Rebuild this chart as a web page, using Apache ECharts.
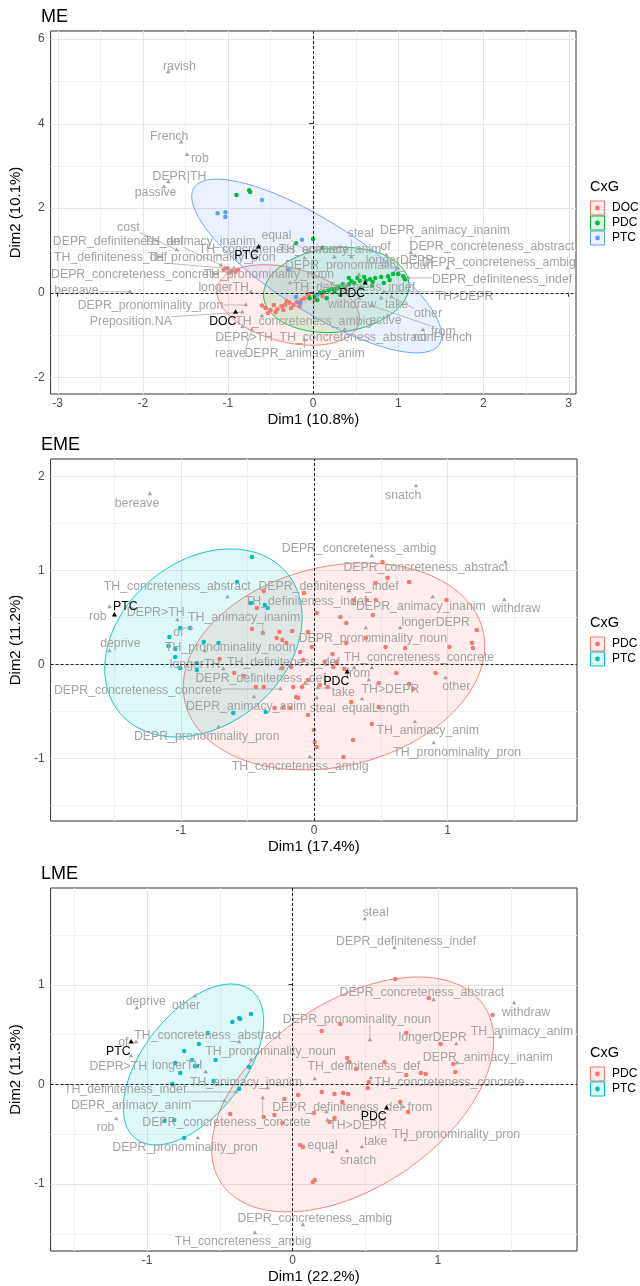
<!DOCTYPE html>
<html><head><meta charset="utf-8">
<script src="https://cdn.jsdelivr.net/npm/echarts@6/dist/echarts.min.js"></script>
<style>html,body{margin:0;padding:0;background:#fff}#c{width:640px;height:1286px}</style>
</head><body><div id="c"></div>
<script>
// ================= DATA =================
// ---- Panel ME ----
const ME_groups = ['DOC','PDC','PTC'];
const ME_DOC = [[-1.05,0.54],[-1.01,0.58],[-0.96,0.51],[-0.91,0.49],[-0.88,0.54],[-0.98,0.47],
 [-0.56,-0.36],[-0.50,-0.41],[-0.46,-0.29],[-0.42,-0.39],[-0.37,-0.32],[-0.33,-0.29],[-0.28,-0.24],[-0.23,-0.29],
 [-0.19,-0.22],[-0.14,-0.17],[-0.10,-0.13],[-0.05,-0.08],[-0.53,-0.48],[-0.44,-0.46],[-0.35,-0.41],[-0.26,-0.36],
 [-0.16,-0.32],[0.02,-0.17],[0.11,-0.08],[-0.60,-0.30],[-0.31,-0.20],[-0.07,-0.02]];
const ME_PDC = [[-0.90,2.31],[-0.75,2.42],[-0.74,2.38],[-0.20,1.17],[0.00,1.27],[0.11,1.06],
 [0.08,-0.01],[0.13,0.02],[0.22,0.09],[0.30,0.13],[0.37,0.14],[0.42,0.20],[0.48,0.23],[0.55,0.28],[0.62,0.28],
 [0.67,0.32],[0.73,0.35],[0.80,0.37],[0.88,0.39],[0.94,0.44],[1.00,0.44],[1.06,0.39],[1.08,0.32],[0.42,0.35],
 [0.52,0.35],[0.60,0.37],[0.25,0.02],[0.02,-0.08],[-0.04,-0.13],[0.05,-0.17],[0.16,-0.13],[0.32,-0.05],[0.56,0.11],
 [0.69,0.16],[0.83,0.23],[0.18,0.05],[0.28,0.10],[0.35,0.20],[0.45,0.27],[0.70,0.25],[0.90,0.30]];
const ME_PTC = [[-1.12,1.88],[-1.03,1.90],[-1.03,1.79],[-0.60,2.19],[-0.13,1.25],[-0.29,0.54],[-0.15,-0.25],[0.05,-0.05],[-0.20,-0.10]];
// ellipse: centre x, centre y, semi-axis vector a (x,y), semi-axis vector b (x,y)
const ME_ellipses = [[-0.292,-0.291,0.830,-0.426,-0.104,-0.851],[0.273,0.064,0.853,0.165,0.046,-0.993],[0.043,0.631,1.442,-1.844,-0.275,-0.903]];
const ME_centroids = [[-0.91,-0.46],[0.61,0.23],[-0.64,1.08]];
const ME_catNames = ['ravish','French','rob','DEPR|TH','passive','cost','DEPR_definiteness_def','TH_animacy_inanim',
 'TH_definiteness_def','TH_pronominality_pron','DEPR_concreteness_concrete','TH_pronominality_noun','DEPR_pronominality_noun',
 'longerTH','bereave','DEPR_pronominality_pron','Preposition.NA','equal','steal','of','DEPR_animacy_inanim',
 'DEPR_concreteness_abstract','longerDEPR','DEPR_concreteness_ambig','DEPR_definiteness_indef','TH>DEPR','TH_definiteness_indef',
 'withdraw','take','other','from','TH_concreteness_ambig','active','TH_concreteness_abstract','DEPR>TH','reave',
 'DEPR_animacy_anim','nonFrench','TH_concreteness_concrete','TH_animacy_anim'];
const ME_cats = [[-1.70,5.22],[-1.55,3.56],[-1.48,3.26],[-1.70,2.62],[-1.75,2.50],[-1.60,1.01],[-1.08,0.65],[-0.67,1.01],
 [-1.04,0.58],[-0.93,0.58],[-1.00,0.49],[-0.27,0.23],[0.54,0.42],[-0.73,0.02],[-2.15,0.02],[-0.79,-0.29],[-0.83,-0.46],
 [-0.06,0.96],[0.45,0.84],[0.86,0.89],[1.15,0.94],[1.20,0.87],[1.00,0.58],[1.58,0.58],[1.12,0.35],[0.83,0.02],[0.37,0.18],
 [0.54,-0.13],[0.80,-0.13],[0.92,-0.10],[0.69,-0.31],[-0.60,-0.55],[0.88,-0.55],[0.37,-0.88],[-0.83,-0.81],[-0.72,-0.88],
 [-0.10,-1.12],[1.29,-0.88],[-0.10,0.82],[0.25,0.84]];

// ---- Panel EME ----
const EME_groups = ['PDC','PTC'];
const EME_PDC = [[-0.378,0.780],[-0.429,0.599],[-0.076,0.758],[0.020,0.546],[0.513,1.088],[0.550,0.918],[0.712,0.876],
 [0.462,0.865],[0.395,0.684],[0.462,0.684],[0.992,0.684],[0.197,0.503],[0.440,0.524],[0.300,0.684],[-0.466,0.376],
 [-0.385,0.333],[-0.260,0.344],[-0.164,0.354],[-0.046,0.344],[-0.282,0.280],[-0.238,0.259],[-0.208,0.227],[-0.105,0.131],
 [-0.083,0.046],[-0.709,0.056],[-0.599,-0.093],[-0.525,-0.124],[-0.437,-0.241],[-0.378,-0.241],[-0.238,-0.039],
 [-0.172,-0.029],[-0.157,-0.241],[-0.091,-0.241],[-0.135,-0.348],[-0.120,-0.358],[-0.297,-0.465],[-0.230,-0.454],
 [-0.179,-0.465],[-0.046,-0.539],[-0.002,-0.699],[0.005,-0.827],[0.020,-0.880],[-0.017,0.184],[0.241,0.439],[0.535,0.184],
 [0.683,0.173],[1.014,0.184],[1.183,0.227],[1.191,0.173],[1.220,0.365],[0.138,0.110],[0.145,-0.029],[0.079,0.024],
 [0.167,0.024],[0.226,-0.050],[0.616,-0.093],[0.911,-0.093],[0.484,-0.199],[0.712,-0.210],[0.742,-0.263],[0.042,-0.220],
 [-0.046,-0.167],[0.101,-0.241],[0.278,-0.401],[0.484,-0.454],[0.432,-0.635],[0.292,-0.805],[0.219,-0.986],[0.388,0.280],
 [0.241,0.227]];
const EME_PTC = [[-0.466,1.141],[-0.577,0.876],[-0.474,0.652],[-0.370,0.631],[-0.348,0.599],[-1.004,0.386],[-0.930,0.386],
 [-1.085,0.290],[-1.092,0.195],[-1.041,0.163],[-0.827,0.237],[-0.717,0.227],[-1.041,0.078],[-1.004,-0.039],[-0.879,-0.061],
 [-0.879,0.014],[-0.606,-0.518],[-0.363,-0.507]];
const EME_ellipses = [[0.149,-0.023,1.130,0.219,0,-1.079],[-0.830,0.227,0.740,0.274,0,-0.962]];
const EME_centroids = [[0.248,-0.082],[-1.497,0.524]];
const EME_catNames = ['bereave','snatch','DEPR_concreteness_ambig','DEPR_concreteness_abstract','DEPR_definiteness_indef',
 'TH_definiteness_indef','DEPR_animacy_inanim','withdraw','TH_concreteness_abstract','rob','DEPR>TH','TH_animacy_inanim','of',
 'deprive','TH_pronominality_noun','DEPR_pronominality_noun','longerDEPR','TH_concreteness_concrete','longerTH',
 'TH_definiteness_def','DEPR_definiteness_def','from','take','TH>DEPR','other','DEPR_concreteness_concrete','DEPR_animacy_anim',
 'steal','equalLength','TH_animacy_anim','TH_pronominality_pron','DEPR_pronominality_pron','TH_concreteness_ambig'];
const EME_cats = [[-1.232,1.812],[0.764,1.897],[0.432,1.152],[1.434,1.088],[0.263,0.780],[0.292,0.641],[0.889,0.716],
 [1.426,0.684],[-0.650,0.716],[-1.534,0.610],[-1.026,0.471],[-0.385,0.333],[-0.923,0.386],[-1.534,0.141],[-0.820,0.141],
 [0.388,0.386],[0.646,0.386],[0.432,-0.039],[-0.680,-0.050],[-0.253,-0.050],[-0.068,-0.199],[0.300,-0.039],[0.027,-0.252],
 [0.410,-0.167],[0.985,-0.146],[-0.253,-0.263],[-0.451,-0.348],[0.020,-0.358],[0.359,-0.369],[0.756,-0.614],[0.896,-0.837],
 [-0.717,-0.667],[-0.032,-0.986]];

// ---- Panel LME ----
const LME_groups = ['PDC','PTC'];
const LME_PDC = [[0.707,1.056],[1.376,0.695],[0.937,0.866],[0.201,0.535],[0.329,0.605],[0.782,0.515],[0.376,0.264],
 [1.018,0.404],[0.437,0.153],[0.633,0.224],[0.782,0.093],[0.883,0.113],[0.917,0.103],[1.120,0.123],[1.106,0.204],
 [0.525,0.023],[0.518,-0.037],[0.201,-0.077],[0.289,-0.097],[0.349,-0.087],[0.383,-0.097],[0.343,-0.178],[0.741,-0.178],
 [0.795,-0.278],[0.147,-0.288],[0.255,-0.378],[0.289,-0.338],[0.153,-0.960],[0.039,-0.107],[-0.056,-0.147],
 [-0.198,-0.328],[-0.124,-0.308],[-0.070,-0.388],[-0.428,-0.298],[0.052,-0.609],[0.072,-0.629],[0.140,-0.980],[0.390,0.224]];
const LME_PTC = [[-0.286,0.705],[-0.367,0.665],[-0.360,0.655],[-0.414,0.625],[-0.583,0.515],[-0.644,0.404],[-0.745,0.334],
 [-0.529,0.244],[-0.806,0.214],[-0.691,0.244],[-0.671,0.184],[-0.657,0.184],[-0.772,0.113],[-0.299,0.174],[-0.543,0.033],
 [-0.826,0.003],[-0.367,-0.047],[-0.880,-0.368],[-0.745,-0.539],[-0.813,-0.358]];
const LME_ellipses = [[0.414,-0.102,0.970,0.547,0,-1.044],[-0.681,0.199,0.483,0.434,0,-0.681]];
const LME_centroids = [[0.647,-0.238],[-1.110,0.424]];
const LME_catNames = ['steal','DEPR_definiteness_indef','DEPR_concreteness_abstract','withdraw','TH_animacy_anim',
 'DEPR_pronominality_noun','longerDEPR','DEPR_animacy_inanim','TH_definiteness_def','TH_concreteness_concrete',
 'DEPR_definiteness_def','from','TH>DEPR','TH_pronominality_pron','equal','take','snatch','DEPR_concreteness_ambig',
 'TH_concreteness_ambig','deprive','other','TH_concreteness_abstract','of','TH_pronominality_noun','DEPR>TH','longerTH',
 'TH_animacy_inanim','TH_definiteness_indef','DEPR_animacy_anim','DEPR_concreteness_concrete','rob','DEPR_pronominality_pron'];
const LME_cats = [[0.498,1.658],[0.701,1.367],[0.971,0.846],[1.525,0.815],[1.430,0.474],[0.532,0.444],[1.126,0.404],
 [1.133,0.214],[0.153,0.053],[0.539,0.063],[0.234,-0.278],[0.762,-0.228],[0.241,-0.358],[0.775,-0.559],[0.275,-0.679],
 [0.478,-0.629],[0.376,-0.669],[0.072,-1.411],[-0.259,-1.491],[-1.070,0.765],[-0.671,0.886],[-0.367,0.424],[-1.076,0.424],
 [-0.286,0.244],[-1.110,0.284],[-0.597,0.123],[-0.171,-0.037],[-0.387,-0.077],[-0.468,-0.168],[-0.205,-0.137],
 [-1.212,-0.348],[-0.651,-0.539]];

// ---- tick labels ----
const ME_xTicks = [-3,-2,-1,0,1,2,3], ME_yTicks = [-2,0,2,4,6];
const EME_xTicks = [-1,0,1], EME_yTicks = [-1,0,1,2];
const LME_xTicks = [-1,0,1], LME_yTicks = [-1,0,1];

// ================= LAYOUT (label placement, not data) =================
const ME_catLabelPos = [[-1.57,5.34],[-1.69,3.70],[-1.33,3.16],[-1.57,2.74],[-1.85,2.36],[-2.17,1.55],[-2.29,1.20],[-1.33,1.20],
 [-2.38,0.82],[-1.19,0.82],[-2.09,0.42],[-0.52,0.42],[0.54,0.63],[-1.05,0.11],[-2.78,0.04],[-1.91,-0.31],[-2.14,-0.69],
 [-0.43,1.36],[0.56,1.39],[0.85,1.08],[1.55,1.46],[2.10,1.08],[1.02,0.75],[2.18,0.70],[2.22,0.32],[1.78,-0.10],[0.48,0.13],
 [0.46,-0.29],[0.98,-0.29],[1.35,-0.50],[1.53,-0.91],[-0.11,-0.69],[0.85,-0.67],[0.47,-1.05],[-0.81,-1.07],[-0.97,-1.43],
 [-0.10,-1.43],[1.52,-1.07],[-0.46,1.01],[0.20,1.01]];
const ME_centroidLabelPos = [[-1.06,-0.69],[0.46,-0.03],[-0.78,0.87]];
const EME_catLabelPos = [[-1.328,1.705],[0.668,1.790],[0.337,1.227],[0.837,1.024],[0.108,0.822],[-0.061,0.663],[0.800,0.610],
 [1.515,0.588],[-1.026,0.822],[-1.622,0.503],[-1.188,0.546],[-0.525,0.493],[-1.018,0.333],[-1.453,0.216],[-0.628,0.173],
 [0.440,0.269],[0.911,0.439],[0.786,0.067],[-0.893,-0.007],[-0.230,0.014],[-0.400,-0.156],[0.329,-0.103],[0.219,-0.305],
 [0.572,-0.273],[1.066,-0.241],[-1.320,-0.284],[-0.510,-0.454],[0.064,-0.476],[0.462,-0.476],[0.852,-0.710],[1.073,-0.944],
 [-0.805,-0.773],[-0.105,-1.093]];
const EME_centroidLabelPos = [[0.167,-0.188],[-1.416,0.610]];
const LME_catLabelPos = [[0.572,1.718],[0.782,1.427],[0.890,0.916],[1.606,0.715],[1.579,0.525],[0.444,0.645],[0.964,0.464],
 [1.343,0.264],[0.491,0.174],[1.079,0.013],[0.309,-0.238],[0.876,-0.238],[0.451,-0.418],[1.126,-0.509],[0.207,-0.619],
 [0.572,-0.579],[0.451,-0.769],[0.153,-1.351],[-0.340,-1.582],[-1.009,0.825],[-0.732,0.785],[-0.583,0.484],[-1.164,0.414],
 [-0.151,0.324],[-1.198,0.174],[-0.793,0.184],[-0.320,0.013],[-1.151,-0.057],[-1.110,-0.218],[-0.455,-0.388],
 [-1.286,-0.438],[-0.739,-0.639]];
const LME_centroidLabelPos = [[0.559,-0.328],[-1.198,0.324]];

// ================= CHART =================
const FONT = '"Liberation Sans", Arial, Helvetica, sans-serif';
const GREY = '#a3a3a3';
const LBL = 12.3;
const mctx = document.createElement('canvas').getContext('2d');
function tw(s, size){ mctx.font = size + 'px ' + FONT; return mctx.measureText(s).width; }
function rgba(hex, a){ const n=parseInt(hex.slice(1),16); return 'rgba('+(n>>16)+','+((n>>8)&255)+','+(n&255)+','+a+')'; }

const panels = [
 {title:'ME', titleY:17, grid:{left:41, top:31, width:535, height:363}, xr:[-3.083,3.088], yr:[-2.395,6.187],
  xt:ME_xTicks, yt:ME_yTicks, xMinor:[-2.5,-1.5,-0.5,0.5,1.5,2.5], yMinor:[-1,1,3,5],
  xName:'Dim1 (10.8%)', yName:'Dim2 (10.1%)', groups:ME_groups, colors:['#F8766D','#00BA38','#619CFF'],
  pts:[ME_DOC,ME_PDC,ME_PTC], ell:ME_ellipses, cen:ME_centroids, cenLab:ME_centroidLabelPos,
  catNames:ME_catNames, cats:ME_cats, catLab:ME_catLabelPos, legendY:187},
 {title:'EME', titleY:445, grid:{left:41, top:459, width:536, height:362}, xr:[-1.976,1.971], yr:[-1.667,2.184],
  xt:EME_xTicks, yt:EME_yTicks, xMinor:[-1.5,-0.5,0.5,1.5], yMinor:[-1.5,-0.5,0.5,1.5],
  xName:'Dim1 (17.4%)', yName:'Dim2 (11.2%)', groups:EME_groups, colors:['#F8766D','#00BFC4'],
  pts:[EME_PDC,EME_PTC], ell:EME_ellipses, cen:EME_centroids, cenLab:EME_centroidLabelPos,
  catNames:EME_catNames, cats:EME_cats, catLab:EME_catLabelPos, legendY:623},
 {title:'LME', titleY:874, grid:{left:41, top:888, width:536, height:363}, xr:[-1.664,1.957], yr:[-1.672,1.969],
  xt:LME_xTicks, yt:LME_yTicks, xMinor:[-1.5,-0.5,0.5,1.5], yMinor:[-1.5,-0.5,0.5,1.5],
  xName:'Dim1 (22.2%)', yName:'Dim2 (11.3%)', groups:LME_groups, colors:['#F8766D','#00BFC4'],
  pts:[LME_PDC,LME_PTC], ell:LME_ellipses, cen:LME_centroids, cenLab:LME_centroidLabelPos,
  catNames:LME_catNames, cats:LME_cats, catLab:LME_catLabelPos, legendY:1053}
];

function labelRender(names, color, tri, size){
  return function(params, api){
    const i = params.dataIndex;
    const p = api.coord([api.value(0), api.value(1)]);
    const l = api.coord([api.value(2), api.value(3)]);
    const name = names[i];
    const w = tw(name, size), h = size * 0.85;
    const qx = Math.max(l[0]-w/2, Math.min(p[0], l[0]+w/2));
    const qy = Math.max(l[1]-h/2, Math.min(p[1], l[1]+h/2));
    const ch = [];
    if (Math.hypot(p[0]-qx, p[1]-qy) > 7) {
      ch.push({type:'line', shape:{x1:p[0], y1:p[1], x2:qx, y2:qy}, style:{stroke:'#a8a8a8', lineWidth:0.8}});
    }
    ch.push({type:'polygon', shape:{points:[[p[0],p[1]-tri],[p[0]+tri*0.87,p[1]+tri*0.5],[p[0]-tri*0.87,p[1]+tri*0.5]]}, style:{fill:color}});
    ch.push({type:'text', x:l[0], y:l[1], style:{text:name, fill:color, font:size+'px '+FONT, align:'center', verticalAlign:'middle', textAlign:'center', textVerticalAlign:'middle'}});
    return {type:'group', children:ch};
  };
}

const option = {animation:false, backgroundColor:'#fff', grid:[], xAxis:[], yAxis:[], series:[], graphic:{elements:[]}};

panels.forEach((P, k) => {
  option.grid.push(Object.assign({show:true, borderColor:'#333', borderWidth:1, backgroundColor:'#fff', containLabel:false}, P.grid));
  option.xAxis.push({gridIndex:k, type:'value', min:P.xr[0], max:P.xr[1], splitLine:{show:false}, axisLine:{show:false},
    axisTick:{show:true, length:4, lineStyle:{color:'#333'}, customValues:P.xt},
    axisLabel:{customValues:P.xt, color:'#4d4d4d', fontSize:12, fontFamily:FONT, margin:4},
    name:P.xName, nameLocation:'middle', nameGap:18, nameTextStyle:{fontSize:15, color:'#000', fontFamily:FONT}});
  option.yAxis.push({gridIndex:k, type:'value', min:P.yr[0], max:P.yr[1], splitLine:{show:false}, axisLine:{show:false},
    axisTick:{show:true, length:4, lineStyle:{color:'#333'}, customValues:P.yt},
    axisLabel:{customValues:P.yt, color:'#4d4d4d', fontSize:12, fontFamily:FONT, margin:6},
    name:P.yName, nameLocation:'middle', nameGap:18, nameTextStyle:{fontSize:15, color:'#000', fontFamily:FONT}});
  // grid lines
  option.series.push({type:'custom', xAxisIndex:k, yAxisIndex:k, z:1, silent:true, data:[[P.xr[0], P.yr[0]]],
    renderItem:function(params, api){
      const ch = [];
      const vline = (v, st) => { const a=api.coord([v,P.yr[0]]), b=api.coord([v,P.yr[1]]); const x=Math.round(a[0])+0.5;
        ch.push({type:'line', shape:{x1:x,y1:a[1],x2:x,y2:b[1]}, style:st}); };
      const hline = (v, st) => { const a=api.coord([P.xr[0],v]), b=api.coord([P.xr[1],v]); const y=Math.round(a[1])+0.5;
        ch.push({type:'line', shape:{x1:a[0],y1:y,x2:b[0],y2:y}, style:st}); };
      const minor = {stroke:'#f3f3f3', lineWidth:1}, major = {stroke:'#e6e6e6', lineWidth:1};
      P.xMinor.forEach(v=>vline(v,minor)); P.yMinor.forEach(v=>hline(v,minor));
      P.xt.forEach(v=>vline(v,major)); P.yt.forEach(v=>hline(v,major));
      return {type:'group', children:ch};
    }});
  // dashed zero lines
  option.series.push({type:'custom', xAxisIndex:k, yAxisIndex:k, z:5, silent:true, data:[[0,0]],
    renderItem:function(params, api){
      const st = {stroke:'#222', lineWidth:1, lineDash:[3,2]};
      const a=api.coord([0,P.yr[0]]), b=api.coord([0,P.yr[1]]), c=api.coord([P.xr[0],0]), d=api.coord([P.xr[1],0]);
      return {type:'group', children:[
        {type:'line', shape:{x1:Math.round(a[0])+0.5,y1:a[1],x2:Math.round(a[0])+0.5,y2:b[1]}, style:st},
        {type:'line', shape:{x1:c[0],y1:Math.round(c[1])+0.5,x2:d[0],y2:Math.round(c[1])+0.5}, style:st}]};
    }});
  // ellipses
  option.series.push({type:'custom', xAxisIndex:k, yAxisIndex:k, z:2, silent:true, clip:true,
    data:P.ell.map((e,g)=>e.concat([g])), encode:{x:0, y:1},
    renderItem:function(params, api){
      const cx=api.value(0), cy=api.value(1), ax=api.value(2), ay=api.value(3), bx=api.value(4), by=api.value(5);
      const col = P.colors[api.value(6)];
      const pts = [];
      for (let i=0;i<=144;i++){ const t=i/144*2*Math.PI; pts.push(api.coord([cx+ax*Math.cos(t)+bx*Math.sin(t), cy+ay*Math.cos(t)+by*Math.sin(t)])); }
      return {type:'polygon', shape:{points:pts}, style:{fill:rgba(col,0.13), stroke:col, lineWidth:0.9}};
    }});
  // individuals
  P.pts.forEach((arr,g)=>{
    option.series.push({type:'scatter', name:P.groups[g], xAxisIndex:k, yAxisIndex:k, z:3, silent:true, data:arr,
      symbol:'circle', symbolSize:4.5, itemStyle:{color:P.colors[g], opacity:1}});
  });
  // categories
  option.series.push({type:'custom', xAxisIndex:k, yAxisIndex:k, z:4, silent:true,
    data:P.cats.map((c,i)=>c.concat(P.catLab[i])), encode:{x:0, y:1},
    renderItem:labelRender(P.catNames, GREY, 2.6, LBL)});
  // group centroids
  option.series.push({type:'custom', xAxisIndex:k, yAxisIndex:k, z:6, silent:true,
    data:P.cen.map((c,i)=>c.concat(P.cenLab[i])), encode:{x:0, y:1},
    renderItem:labelRender(P.groups, '#000', 3, LBL)});
  // title
  option.graphic.elements.push({type:'text', x:41, y:P.titleY, style:{text:P.title, font:'18px '+FONT, fill:'#000', verticalAlign:'middle', textVerticalAlign:'middle'}});
  // legend
  option.graphic.elements.push({type:'text', x:590, y:P.legendY, style:{text:'CxG', font:'14.5px '+FONT, fill:'#000', verticalAlign:'middle', textVerticalAlign:'middle'}});
  P.groups.forEach((g,i)=>{
    const yc = P.legendY + 21 + i*15;
    option.graphic.elements.push({type:'rect', shape:{x:590.5, y:yc-7, width:14, height:14}, style:{fill:rgba(P.colors[i],0.13), stroke:P.colors[i], lineWidth:1}});
    option.graphic.elements.push({type:'circle', shape:{cx:597.5, cy:yc, r:2.4}, style:{fill:P.colors[i]}});
    option.graphic.elements.push({type:'text', x:612, y:yc, style:{text:g, font:'12px '+FONT, fill:'#000', verticalAlign:'middle', textVerticalAlign:'middle'}});
  });
});

const chart = echarts.init(document.getElementById('c'), null, {renderer:'canvas'});
chart.setOption(option);
</script></body></html>
